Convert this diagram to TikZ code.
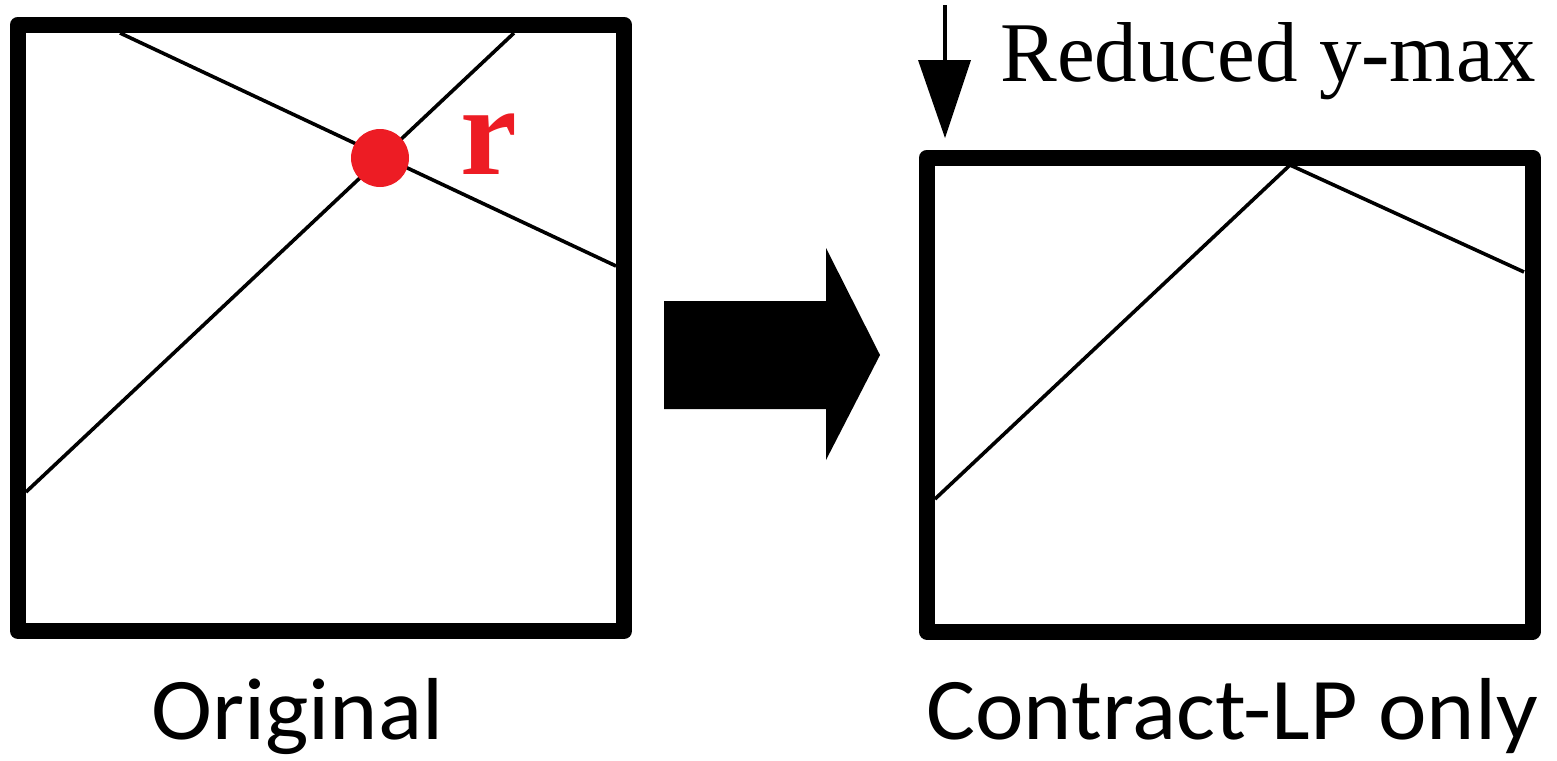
\documentclass[tikz,border=0pt]{standalone}
\usepackage{fontspec}
\newfontfamily\labelfont[FakeStretch=1.045]{Carlito}
\newfontfamily\serifont{Liberation Serif}
\definecolor{ptred}{HTML}{ED1C24}
\begin{document}
\begin{tikzpicture}[x=0.5pt,y=-0.5pt,
  frame/.style={line width=8pt,line join=round},
  thin/.style={line width=1.8pt},
  caption/.style={anchor=base west,inner sep=0pt,font=\labelfont\fontsize{44}{52}\selectfont},
  toplabel/.style={anchor=base west,inner sep=0pt,font=\serifont\fontsize{42.5}{50}\selectfont},
  rlabel/.style={anchor=base west,inner sep=0pt,text=ptred,font=\serifont\bfseries\fontsize{64}{70}\selectfont}]
\useasboundingbox (0,0) rectangle (1557,760);
% left box
\coordinate (L1a) at (120,33);
\coordinate (L1b) at (616,266);
\coordinate (L2a) at (26,492);
\coordinate (L2b) at (514,33);
\draw[thin] (L1a) -- (L1b);
\draw[thin] (L2a) -- (L2b);
\draw[frame] (18,24.5) rectangle (624,631);
\fill[ptred] (380,158) circle (29);
\node[rlabel] (r) at (460,174) {r};
% big arrow
\fill (664,301) -- (826,301) -- (826,248) -- (880,355) -- (826,460) -- (826,409) -- (664,409) -- cycle;
% right box
\coordinate (R1) at (935,499);
\coordinate (Rp) at (1290,165);
\coordinate (R2) at (1524,272);
\draw[thin] (R1) -- (Rp) -- (R2);
\draw[frame] (927,157.5) rectangle (1532.5,631.5);
% small arrow
\coordinate (sa) at (945,5);
\coordinate (sb) at (945,62);
\draw[line width=2pt] (sa) -- (sb);
\fill (918,60) -- (971,60) -- (945,138) -- cycle;
\node[toplabel] (ymax) at (1000,81) {Reduced y-max};
% captions
\node[caption] (orig) at (151,739) {Original};
\node[caption] (contr) at (926,739) {Contract-LP only};
\end{tikzpicture}
\end{document}
